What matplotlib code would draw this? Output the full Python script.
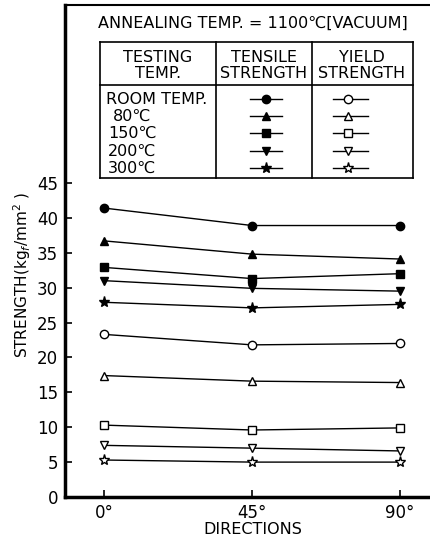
import numpy as np
import matplotlib.pyplot as plt
from matplotlib.lines import Line2D

plt.rcParams['font.family'] = ['Liberation Sans Narrow', 'DejaVu Sans']

# data
directions = [0, 45, 90]
dir_labels = ['0°', '45°', '90°']
temps = ['ROOM TEMP.', '80℃', '150℃', '200℃', '300℃']
markers = ['o', '^', 's', 'v', '*']
tensile = [
    [41.4, 38.9, 38.9],
    [36.7, 34.8, 34.1],
    [32.9, 31.3, 32.0],
    [31.0, 29.9, 29.5],
    [27.9, 27.1, 27.6],
]
yld = [
    [23.3, 21.8, 22.0],
    [17.4, 16.6, 16.4],
    [10.3, 9.6, 9.9],
    [7.4, 7.0, 6.6],
    [5.3, 5.0, 5.0],
]

W, H = 430, 545
fig = plt.figure(figsize=(W / 100, H / 100), dpi=100)
ax = fig.add_axes([65 / W, 48 / H, 1 - 65 / W, 492 / H])

for i in range(5):
    ax.plot(directions, tensile[i], color='black', lw=1, marker=markers[i],
            ms=8 if markers[i] == '*' else 6, mfc='black', mec='black')
    ax.plot(directions, yld[i], color='black', lw=1, marker=markers[i],
            ms=8 if markers[i] == '*' else 6, mfc='white', mec='black', mew=1)

ax.set_xlim(-11.9, 99.1)
ax.set_ylim(0, 70.5)
ax.set_yticks(np.arange(0, 50, 5))
ax.set_xticks(directions)
ax.set_xticklabels(dir_labels)
ax.tick_params(direction='in', labelsize=12, length=5, width=1.2, pad=5)
ax.spines['right'].set_visible(False)
ax.spines['left'].set_linewidth(2.5)
ax.spines['bottom'].set_linewidth(2.5)
ax.spines['top'].set_linewidth(1.5)
fig.text(253 / W, 1 - 530 / H, 'DIRECTIONS', ha='center', va='center', fontsize=11.5)
fig.text(22 / W, 1 - 275 / H, 'STRENGTH(kg$_f$/mm$^2$ )', rotation=90,
         ha='center', va='center', fontsize=11)

# inset table (pixel coordinates from top-left)
def fx(x):
    return x / W

def fy(y):
    return 1 - y / H

def hline(x0, x1, y):
    fig.add_artist(Line2D([fx(x0), fx(x1)], [fy(y), fy(y)], color='black', lw=1.2))

def vline(x, y0, y1):
    fig.add_artist(Line2D([fx(x), fx(x)], [fy(y0), fy(y1)], color='black', lw=1.2))

def txt(x, y, s, **kw):
    fig.text(fx(x), fy(y), s, ha='center', va='center', fontsize=11.5, **kw)

txt(253, 23, 'ANNEALING TEMP. = 1100℃[VACUUM]')
left, c1, c2, right = 100, 216, 312, 413
top, mid, bot = 42, 85, 178
hline(left, right, top)
hline(left, right, mid)
hline(left, right, bot)
for x in (left, c1, c2, right):
    vline(x, top, bot)

txt(158, 57, 'TESTING')
txt(158, 73, 'TEMP.')
txt(264, 57, 'TENSILE')
txt(264, 73, 'STRENGTH')
txt(362, 57, 'YIELD')
txt(362, 73, 'STRENGTH')

row_y = [99, 116, 133, 151, 168]
for i in range(5):
    y = row_y[i]
    if i == 0:
        fig.text(fx(106), fy(y), temps[i], ha='left', va='center', fontsize=11.5)
    else:
        txt(132, y, temps[i])
    ms = 8 if markers[i] == '*' else 6
    fig.add_artist(Line2D([fx(250), fx(282)], [fy(y), fy(y)], color='black', lw=1))
    fig.add_artist(Line2D([fx(266)], [fy(y)], marker=markers[i], ms=ms,
                          mfc='black', mec='black', lw=0))
    fig.add_artist(Line2D([fx(333), fx(368)], [fy(y), fy(y)], color='black', lw=1))
    fig.add_artist(Line2D([fx(348)], [fy(y)], marker=markers[i], ms=ms,
                          mfc='white', mec='black', lw=0))

fig.savefig('out.png', dpi=100)
